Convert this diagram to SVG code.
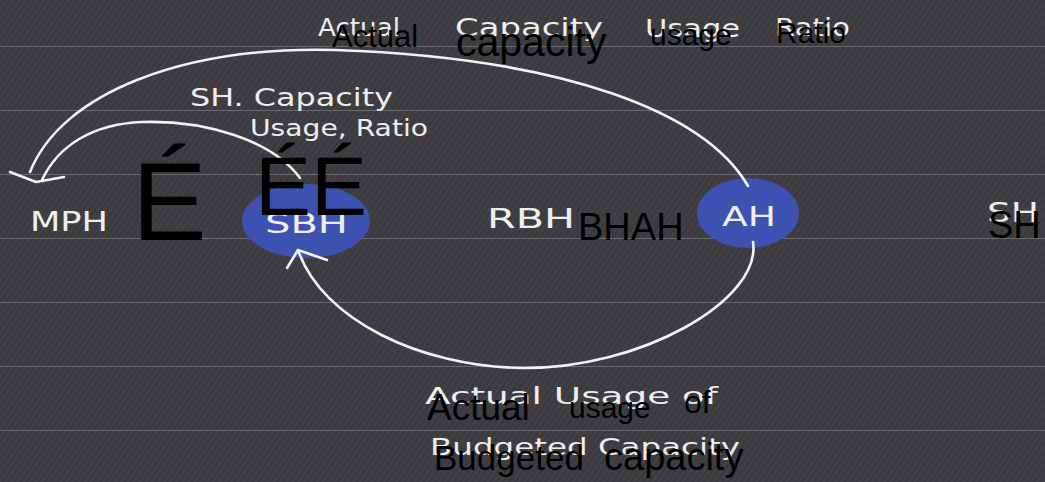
<svg xmlns="http://www.w3.org/2000/svg" width="1045" height="482" viewBox="0 0 1045 482">
<defs>
<pattern id="tex" width="5" height="5" patternUnits="userSpaceOnUse" patternTransform="rotate(-55)">
<rect width="5" height="5" fill="#3d3d41"/>
<line x1="0" y1="1" x2="5" y2="1" stroke="#434347" stroke-width="1.2"/>
<line x1="0" y1="3.5" x2="5" y2="3.5" stroke="#39393d" stroke-width="1"/>
</pattern>
<style>
.rule{stroke:#6a6a6e;stroke-width:1}
.wire{fill:none;stroke:#f2f2f2;stroke-width:2.6;stroke-linecap:round;stroke-linejoin:round}
.blob{fill:#3d52b0}
.hw{font-family:"DejaVu Sans","Liberation Sans",sans-serif;fill:#eeeeee}
.tx{font-family:"Liberation Sans",Arial,sans-serif;fill:#000}
</style>
</defs>
<rect width="1045" height="482" fill="url(#tex)"/>
<g id="rules">
<line class="rule" x1="0" y1="46.5" x2="1045" y2="46.5"/>
<line class="rule" x1="0" y1="110.5" x2="1045" y2="110.5"/>
<line class="rule" x1="0" y1="174.5" x2="1045" y2="174.5"/>
<line class="rule" x1="0" y1="238.5" x2="1045" y2="238.5"/>
<line class="rule" x1="0" y1="302.5" x2="1045" y2="302.5"/>
<line class="rule" x1="0" y1="366.5" x2="1045" y2="366.5"/>
<line class="rule" x1="0" y1="430.5" x2="1045" y2="430.5"/>
</g>
<g id="node-sbh">
<ellipse class="blob" cx="306" cy="221" rx="64" ry="37"/>
<text class="hw" x="265" y="233" font-size="26" textLength="83" lengthAdjust="spacingAndGlyphs">SBH</text>
</g>
<g id="node-ah">
<ellipse class="blob" cx="748" cy="213" rx="51" ry="35"/>
<text class="hw" x="722" y="226" font-size="27" textLength="54" lengthAdjust="spacingAndGlyphs">AH</text>
</g>
<g id="node-mph">
<text class="hw" x="30" y="231" font-size="26" textLength="78" lengthAdjust="spacingAndGlyphs">MPH</text>
</g>
<g id="node-rbh">
<text class="hw" x="487" y="228" font-size="26" textLength="88" lengthAdjust="spacingAndGlyphs">RBH</text>
</g>
<g id="node-sh">
<text class="hw" x="987" y="222" font-size="26" textLength="52" lengthAdjust="spacingAndGlyphs">SH</text>
</g>
<g id="connectors">
<path class="wire" d="M748,186 C705,112 565,58 335,50 C185,46 62,92 30,172"/>
<path class="wire" d="M300,178 C272,140 205,120 142,122 C92,124 58,146 42,180"/>
<path class="wire" d="M10,172 L36,182 L64,177"/>
<path class="wire" d="M753,242 C762,300 640,370 520,368 C420,366 322,320 298,250"/>
<path class="wire" d="M287,268 L298,250 L327,260"/>
</g>
<g id="labels-hand">
<text class="hw" x="318" y="36" font-size="24" textLength="82" lengthAdjust="spacingAndGlyphs">Actual</text>
<text class="hw" x="455" y="36" font-size="24" textLength="148" lengthAdjust="spacingAndGlyphs">Capacity</text>
<text class="hw" x="645" y="37" font-size="24" textLength="95" lengthAdjust="spacingAndGlyphs">Usage</text>
<text class="hw" x="775" y="36" font-size="24" textLength="75" lengthAdjust="spacingAndGlyphs">Ratio</text>
<text class="hw" x="190" y="106" font-size="24" textLength="203" lengthAdjust="spacingAndGlyphs">SH. Capacity</text>
<text class="hw" x="250" y="136" font-size="23" textLength="178" lengthAdjust="spacingAndGlyphs">Usage, Ratio</text>
<text class="hw" x="425" y="404" font-size="23" textLength="293" lengthAdjust="spacingAndGlyphs">Actual  Usage  of</text>
<text class="hw" x="430" y="455" font-size="23" textLength="310" lengthAdjust="spacingAndGlyphs">Budgeted  Capacity</text>
</g>
<g id="labels-type">
<text class="tx" x="332" y="47" font-size="31">Actual</text>
<text class="tx" x="456" y="56" font-size="41">capacity</text>
<text class="tx" x="650" y="45" font-size="30">usage</text>
<text class="tx" x="776" y="43" font-size="30">Ratio</text>
<text class="tx" x="132" y="240" font-size="112">É</text>
<text class="tx" x="255" y="215" font-size="84">ÉÉ</text>
<text class="tx" x="578" y="240" font-size="38">BHAH</text>
<text class="tx" x="988" y="238" font-size="38">SH</text>
<text class="tx" x="427" y="420" font-size="37">Actual</text>
<text class="tx" x="569" y="418" font-size="30">usage</text>
<text class="tx" x="684" y="413" font-size="32">of</text>
<text class="tx" x="434" y="470" font-size="35">Budgeted</text>
<text class="tx" x="604" y="470" font-size="38">capacity</text>
</g>
</svg>
